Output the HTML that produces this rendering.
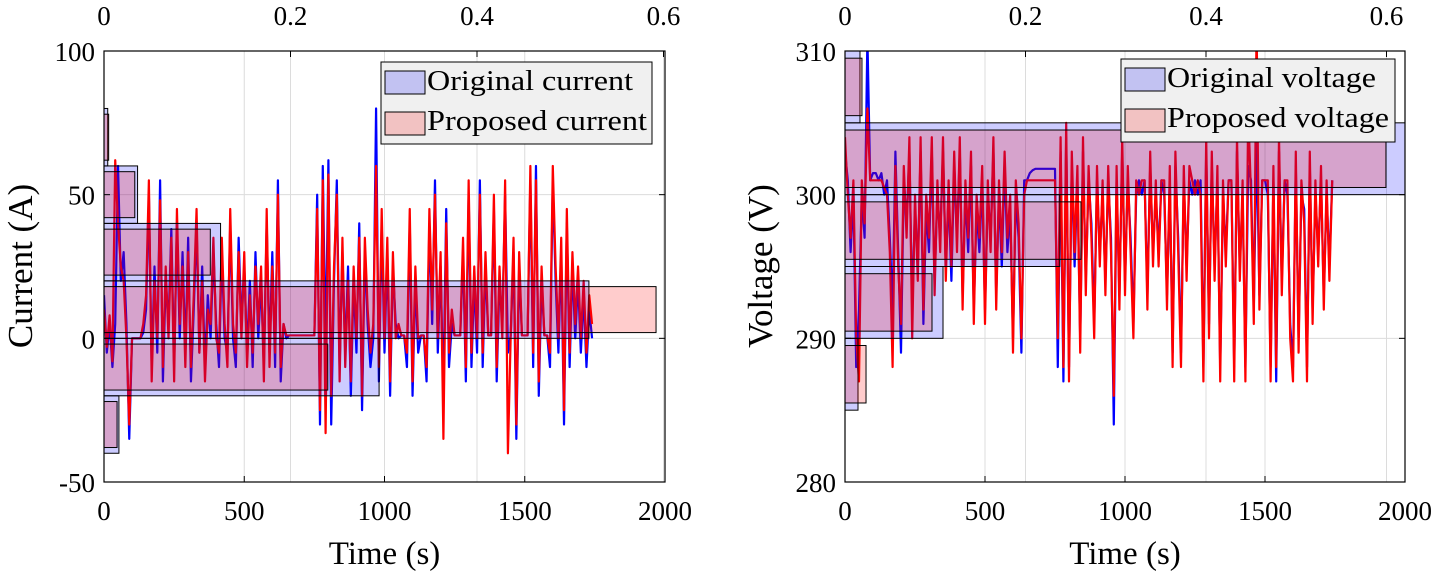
<!DOCTYPE html>
<html><head><meta charset="utf-8"><style>
body{margin:0;background:#fff;}
svg{display:block;font-family:"Liberation Serif",serif;}
</style></head><body>
<svg id="chart" width="1439" height="585" viewBox="0 0 1439 585" xmlns="http://www.w3.org/2000/svg"></svg>
<script>
// ---- data ----
const timeStep = 10; // seconds between samples
const currentOriginal = [15,-5,5,-10,5,60,20,30,5,-35,
0,0,0,0,2,10,50,-10,25,-5,
55,-15,20,5,38,-10,40,0,30,-5,
35,-15,10,40,-5,25,-10,15,0,30,
5,-10,30,0,-5,40,0,-10,35,5,
25,-5,20,-10,30,0,20,-10,40,-5,
30,-10,55,-15,5,0,1,1,1,1,
1,1,1,1,1,1,50,-30,60,-5,
62,-30,20,55,-10,30,-5,25,-20,20,
-5,40,-25,30,5,-10,0,80,-15,40,
-5,30,-20,25,5,0,1,1,-10,40,
-20,20,-5,1,1,-15,40,5,55,-5,
25,-20,45,-10,5,1,1,1,30,-15,
50,-10,20,-5,55,-10,25,1,1,45,
-15,20,5,50,-5,1,30,-35,25,1,
1,1,55,-10,60,-20,20,1,1,-10,
55,20,-5,30,-30,40,-10,25,0,20,
-5,15,-10,10,0];
const currentProposed = [10,-3,8,-8,62,40,25,20,0,-30,
0,0,0,0,5,15,55,-15,20,0,
48,-10,25,0,35,-15,45,5,25,-10,
30,-10,15,45,-5,20,-15,10,5,35,
0,-5,35,5,-10,45,5,-5,30,0,
30,-10,15,-5,25,5,25,-15,45,-10,
25,-5,50,-10,5,1,1,1,1,1,
1,1,1,1,1,1,45,-25,55,-33,
57,-20,25,50,-15,35,-10,20,-15,25,
0,35,-20,35,10,-5,5,60,-10,45,
0,35,-15,30,0,5,1,1,-5,45,
-15,25,0,1,1,-10,45,10,50,0,
30,-35,40,-5,10,1,1,1,35,-10,
55,-5,25,0,50,-5,30,1,1,50,
-10,25,0,55,-40,1,35,-30,30,1,
1,1,60,-5,55,-15,25,1,1,-5,
60,25,0,35,-25,45,-5,30,5,25,
0,20,-5,15,5];
const voltageOriginal = [303,301,296,300,288,292,300,297,311,301,
301.5,301.5,301,301.5,300,301,297,292,303,296,
289,301,298,303,292,299,295,303,291,299,
296,303,294,300,297,303,295,300,294,302,
297,303,293,300,296,302,292,299,296,301,
292,300,297,303,293,300,295,302,296,299,
290,300,297,289,301,301,301.5,301.7,301.8,301.8,
301.8,301.8,301.8,301.8,301.8,301.8,288,303,287,304,
288,302,295,301,290,303,294,301,298,291,
301,296,300,294,301,297,284,301,293,303,
294,301,297,291,300,301,300,301,293,302,
296,300,296,301,300,293,301,289,302,297,
289,301,295,301,300,301,300,301,288,303,
291,302,295,301,288,300,296,301,301,288,
303,295,300,288,302,301,292,304,293,301,
301,300,288,301,287,303,294,301,300,291,
288,302,290,300,299,288,302,292,300,296,
301,293,300,295,301];
const voltageProposed = [304,300,297,301,290,287,301,298,306,301,
301,301,301,301,300.5,300,296,288,302,295,
291,302,297,304,290,300,294,304,292,300,
297,304,293,301,296,304,294,301,295,303,
296,304,292,301,297,303,291,300,297,302,
291,301,296,304,292,301,296,303,297,300,
289,301,298,290,300,301,301,301,301,301,
301,301,301,301,301,301,290,304,288,305,
287,303,296,302,289,304,293,302,297,290,
302,295,301,293,302,296,286,302,292,304,
293,302,296,290,301,300,301,301,292,303,
295,301,295,301,301,292,302,288,303,296,
288,302,294,302,301,300,301,300,287,304,
290,303,294,302,287,301,295,301,301,287,
304,294,301,287,306,300,291,312,292,301,
301,301,287,302,288,304,293,301,301,290,
287,303,289,301,298,287,303,291,301,295,
302,292,301,294,301];
// histograms (bin centres, probabilities)
const currentBins = [-30,-10,10,30,50,70];
const currentHistOriginal = [0.016,0.295,0.520,0.125,0.036,0.004];
const currentHistProposed = [0.014,0.240,0.592,0.114,0.033,0.005];
const voltageBins = [287.5,292.5,297.5,302.5,307.5];
const voltageHistOriginal = [0.0144,0.1086,0.238,0.70,0.0166];
const voltageHistProposed = [0.0233,0.0964,0.2615,0.5994,0.0188];
const xTicks = [0,500,1000,1500,2000];
const topTicks = [0,0.2,0.4,0.6];
const currentTicks = [-50,0,50,100];
const voltageTicks = [280,290,300,310];

const NS = "http://www.w3.org/2000/svg";
const svg = document.getElementById('chart');
function mk(tag, attrs, parent){
  const e = document.createElementNS(NS, tag);
  for (const k in attrs) e.setAttribute(k, attrs[k]);
  (parent||svg).appendChild(e);
  return e;
}

function panel(p){
  const g = mk('g', {});
  
  
  const X = t => p.x0 + (t/2000)*(p.x1-p.x0);
  const P = v => p.x0 + (v/p.pmax)*(p.x1-p.x0);
  const Y = v => p.y1 - (v-p.ymin)/(p.ymax-p.ymin)*(p.y1-p.y0);
  const cid = 'clip-' + p.name;
  const cp = mk('clipPath', {id: cid}, g);
  mk('rect', {x:p.x0, y:p.y0, width:p.x1-p.x0, height:p.y1-p.y0}, cp);
  const grid = mk('g', {stroke:'#dcdcdc', 'stroke-width':1}, g);
  
  
  xTicks.forEach(t => mk('line', {x1:X(t), x2:X(t), y1:p.y0, y2:p.y1}, grid));
  topTicks.forEach(t => mk('line', {x1:P(t), x2:P(t), y1:p.y0, y2:p.y1}, grid));
  p.yTicks.forEach(t => mk('line', {x1:p.x0, x2:p.x1, y1:Y(t), y2:Y(t)}, grid));
  const plot = mk('g', {'clip-path':'url(#'+cid+')'}, g);
  [[p.orig,'#0000ff','line-original'],[p.prop,'#ff0000','line-proposed']].forEach(([arr,col,nm])=>{
    const d = arr.map((v,i)=>(i?'L':'M')+X(i*timeStep).toFixed(2)+','+Y(v).toFixed(2)).join('');
    const path = mk('path', {d:d, fill:'none', stroke:col, 'stroke-width':2.2, 'stroke-linejoin':'round'}, plot);
    
    
  });
  const bw = p.binWidth;
  p.bins.forEach((c,i)=>{
    const r = mk('rect', {x:P(0), y:Y(c+bw/2), width:P(p.histOrig[i])-P(0), height:Y(c-bw/2)-Y(c+bw/2), fill:'rgba(0,0,255,0.2)', stroke:'#000', 'stroke-width':1}, plot);
    
    
  });
  p.bins.forEach((c,i)=>{
    const h = bw*0.8;
    const r = mk('rect', {x:P(0), y:Y(c+h/2), width:P(p.histProp[i])-P(0), height:Y(c-h/2)-Y(c+h/2), fill:'rgba(255,0,0,0.2)', stroke:'#000', 'stroke-width':1}, plot);
    
    
  });
  const fr = mk('rect', {x:p.x0, y:p.y0, width:p.x1-p.x0, height:p.y1-p.y0, fill:'none', stroke:'#000', 'stroke-width':1.2}, g);
  
  
  xTicks.forEach(t => {
    mk('line', {x1:X(t), x2:X(t), y1:p.y1, y2:p.y1-6, stroke:'#000'}, g);
    const tx = mk('text', {x:X(t), y:520, 'font-size':27, 'text-anchor':'middle'}, g);
    tx.textContent = t;
    
    
  });
  topTicks.forEach(t => {
    mk('line', {x1:P(t), x2:P(t), y1:p.y0, y2:p.y0+6, stroke:'#000'}, g);
    const tx = mk('text', {x:P(t), y:25, 'font-size':27, 'text-anchor':'middle'}, g);
    tx.textContent = t;
    
    
  });
  p.yTicks.forEach(t => {
    mk('line', {x1:p.x0, x2:p.x0+6, y1:Y(t), y2:Y(t), stroke:'#000'}, g);
    mk('line', {x1:p.x1, x2:p.x1-6, y1:Y(t), y2:Y(t), stroke:'#000'}, g);
    const tx = mk('text', {x:p.x0-9, y:Y(t)+10, 'font-size':27, 'text-anchor':'end'}, g);
    tx.textContent = t;
    
    
  });
  const xl = mk('text', {x:(p.x0+p.x1)/2, y:564, 'font-size':33, 'text-anchor':'middle'}, g);
  xl.textContent = 'Time (s)';
  
  
  const yl = mk('text', {x:0, y:0, 'font-size':35, 'text-anchor':'middle', transform:'translate('+p.ylx+',266) rotate(-90)'}, g);
  yl.textContent = p.ylabel;
  
  
  const L = p.leg;
  const lg = mk('g', {}, g);
  
  
  mk('rect', {x:L.x, y:L.y, width:L.w, height:L.h, fill:'#f0f0f0', stroke:'#000', 'stroke-width':1}, lg);
  [[p.legText[0],'#c2c2f2',0],[p.legText[1],'#f2c2c2',1]].forEach(([txt,col,k])=>{
    const e = mk('g', {}, lg);
    
    
    mk('rect', {x:L.x+4, y:L.y+9+k*41, width:40, height:23, fill:col, stroke:'#000', 'stroke-width':1}, e);
    const t = mk('text', {x:L.x+46, y:L.y+28+k*40, 'font-size':29, textLength:L.tl[k], lengthAdjust:'spacingAndGlyphs'}, e);
    t.textContent = txt;
  });
}

panel({name:'current-panel', x0:104, x1:665, y0:51, y1:482, ymin:-50, ymax:100, pmax:0.6016,
  yTicks:currentTicks, orig:currentOriginal, prop:currentProposed, bins:currentBins, binWidth:20,
  histOrig:currentHistOriginal, histProp:currentHistProposed, ylabel:'Current (A)', ylx:32,
  leg:{x:381, y:62, w:271, h:82, tl:[206,220]}, legText:['Original current','Proposed current']});
panel({name:'voltage-panel', x0:845, x1:1405, y0:51, y1:482, ymin:280, ymax:310, pmax:0.6205,
  yTicks:voltageTicks, orig:voltageOriginal, prop:voltageProposed, bins:voltageBins, binWidth:5,
  histOrig:voltageHistOriginal, histProp:voltageHistProposed, ylabel:'Voltage (V)', ylx:772,
  leg:{x:1121, y:59, w:274, h:83, tl:[209,222]}, legText:['Original voltage','Proposed voltage']});
</script>
</body></html>
